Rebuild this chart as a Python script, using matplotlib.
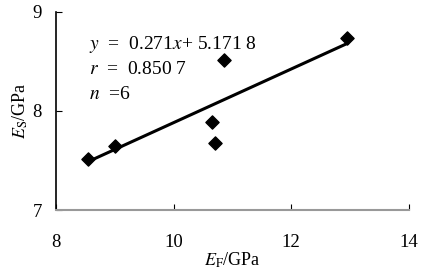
import numpy as np
import matplotlib
matplotlib.use("Agg")
import matplotlib.pyplot as plt

plt.rcParams['font.family'] = ['Liberation Serif', 'DejaVu Serif']
plt.rcParams['mathtext.fontset'] = 'stix'

# data
ef = [8.55, 9.0, 10.65, 10.7, 10.85, 12.95]
es = [7.52, 7.65, 7.89, 7.68, 8.51, 8.74]
slope = 0.271
intercept = 5.1718
xticks = [8, 10, 12, 14]
yticks = [7, 8, 9]

fig = plt.figure(figsize=(4.26, 2.71), dpi=100)
ax = fig.add_axes([0.131, 0.225, 0.829, 0.731])

xl = np.array([min(ef), max(ef)])
ax.plot(xl, slope * xl + intercept, color='black', lw=2.2)
ax.scatter(ef, es, marker='D', s=45, color='black', zorder=3)

ax.set_xlim(8, 14)
ax.set_ylim(7, 9)
ax.set_xticks(xticks)
ax.set_yticks(yticks)
ax.spines['top'].set_visible(False)
ax.spines['right'].set_visible(False)
ax.spines['left'].set_color('black')
ax.spines['left'].set_linewidth(1.2)
ax.spines['bottom'].set_color('#999999')
ax.spines['bottom'].set_linewidth(1.5)
ax.tick_params(axis='x', direction='in', length=4, color='black', pad=17, labelsize=13.5)
ax.tick_params(axis='y', direction='in', length=4, color='black', pad=10, labelsize=13.5)

ax.set_xlabel('$E_{\\mathrm{F}}$/GPa', fontsize=13, labelpad=0)
ax.set_ylabel('$E_{\\mathrm{S}}$/GPa', fontsize=13, labelpad=2)

ax.text(0.095, 0.835, '$y$  =  0.271$x$+ 5.171 8', transform=ax.transAxes,
        fontsize=14, va='center')
ax.text(0.095, 0.71, '$r$  =  0.850 7', transform=ax.transAxes,
        fontsize=14, va='center')
ax.text(0.095, 0.585, '$n$  =6', transform=ax.transAxes,
        fontsize=14, va='center')

fig.savefig('out.png', dpi=100)
